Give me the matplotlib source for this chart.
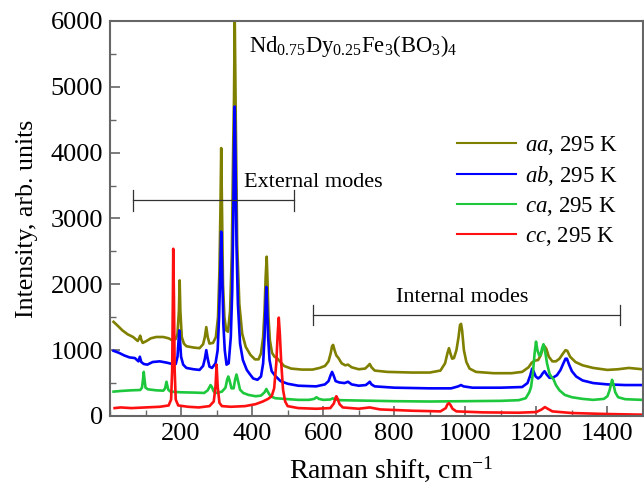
import matplotlib
matplotlib.use("Agg")
import matplotlib.pyplot as plt
from matplotlib.ticker import MultipleLocator

plt.rcParams['font.family'] = ['Liberation Serif', 'DejaVu Serif']
plt.rcParams['mathtext.fontset'] = 'custom'
plt.rcParams['mathtext.rm'] = 'Liberation Serif'
plt.rcParams['mathtext.it'] = 'Liberation Serif:italic'
plt.rcParams['mathtext.bf'] = 'Liberation Serif:bold'

# Raman spectra, Nd0.75Dy0.25Fe3(BO3)4 at 295 K, four scattering geometries
aa_shift = [10, 20, 35, 50, 65, 78, 82, 85, 88, 92, 103, 115, 130, 150, 165, 175, 185,
            190, 194, 196, 198, 202, 208, 215, 235, 252, 262, 267, 271, 275, 280, 290,
            298, 304, 308, 311, 313, 315, 318, 322, 327, 332, 338, 343, 347, 349, 351,
            354, 358, 364, 372, 382, 395, 408, 418, 425, 431, 435, 438, 441, 443, 446,
            450, 456, 463, 470, 478, 490, 510, 540, 570, 590, 605, 615, 621, 625, 628,
            632, 637, 643, 652, 662, 670, 680, 700, 718, 726, 731, 736, 745, 780, 850,
            900, 930, 943, 950, 954, 958, 963, 968, 975, 981, 985, 988, 991, 996, 1003,
            1012, 1030, 1080, 1130, 1160, 1178, 1187, 1195, 1205, 1212, 1218, 1223,
            1228, 1235, 1245, 1255, 1265, 1275, 1282, 1287, 1295, 1310, 1330, 1360,
            1400, 1430, 1460, 1498]
aa_int = [1430, 1380, 1300, 1240, 1200, 1140, 1180, 1220, 1160, 1110, 1140, 1180, 1200,
          1200, 1180, 1150, 1170, 1250, 1600, 2060, 1600, 1200, 1100, 1060, 1040, 1030,
          1090, 1200, 1350, 1200, 1100, 1110, 1200, 1500, 2200, 3200, 4070, 3200, 2000,
          1500, 1300, 1280, 1600, 2500, 4200, 4800, 6100, 4500, 2600, 1700, 1250, 1050,
          930, 860, 860, 950, 1200, 1600, 2100, 2420, 2100, 1500, 1150, 960, 900, 880,
          830, 760, 720, 705, 705, 730, 760, 830, 950, 1060, 1080, 1000, 920, 880, 800,
          770, 780, 740, 710, 720, 760, 790, 740, 690, 670, 660, 660, 690, 800, 960,
          1030, 950, 870, 880, 1000, 1200, 1380, 1400, 1300, 1000, 820, 720, 670, 650,
          650, 670, 740, 810, 840, 850, 920, 1020, 1060, 1020, 900, 830, 830, 870, 950,
          1000, 990, 900, 820, 770, 730, 700, 710, 730, 710]

ab_shift = [10, 25, 40, 55, 70, 80, 84, 88, 95, 105, 120, 140, 160, 175, 185, 190, 193,
            195, 197, 200, 206, 215, 235, 252, 262, 267, 271, 275, 280, 287, 297, 303,
            307, 310, 313, 316, 319, 323, 328, 334, 340, 344, 347, 349, 351, 353, 356,
            360, 366, 374, 385, 393, 403, 415, 425, 431, 435, 438, 440, 442, 445, 449,
            455, 465, 480, 500, 530, 580, 605, 615, 621, 625, 629, 635, 645, 660, 670,
            680, 700, 720, 727, 731, 736, 745, 800, 900, 960, 980, 988, 995, 1020, 1100,
            1160, 1175, 1183, 1188, 1192, 1198, 1205, 1212, 1218, 1223, 1229, 1237, 1246,
            1258, 1268, 1276, 1282, 1286, 1292, 1300, 1312, 1330, 1360, 1400, 1450, 1498]
ab_int = [990, 960, 920, 890, 880, 830, 900, 820, 790, 780, 820, 830, 810, 790, 790, 900,
          1150, 1300, 1150, 900, 780, 730, 710, 700, 760, 870, 1000, 870, 750, 730, 800,
          1000, 1500, 2100, 2800, 2100, 1400, 1000, 780, 800, 1200, 1900, 3000, 4000,
          4700, 4000, 2600, 1700, 1100, 850, 700, 640, 570, 550, 600, 800, 1200, 1700,
          1960, 1700, 1200, 850, 680, 610, 530, 490, 460, 450, 480, 530, 620, 670, 620,
          530, 510, 500, 520, 480, 460, 470, 500, 520, 480, 450, 430, 420, 420, 450,
          470, 450, 430, 430, 440, 500, 620, 720, 680, 600, 570, 600, 650, 680, 630,
          580, 580, 620, 700, 800, 870, 870, 780, 680, 600, 540, 500, 480, 470, 470]

ca_shift = [10, 30, 60, 85, 90, 93, 95, 97, 100, 107, 130, 150, 155, 157, 159, 161, 164,
            170, 200, 240, 265, 275, 280, 283, 287, 292, 300, 315, 325, 330, 333, 336,
            342, 348, 352, 356, 360, 366, 375, 390, 410, 425, 435, 440, 445, 452, 465,
            490, 530, 560, 575, 581, 588, 600, 620, 627, 635, 650, 700, 800, 900, 1000,
            1100, 1150, 1170, 1180, 1185, 1190, 1195, 1199, 1203, 1208, 1212, 1216, 1220,
            1224, 1230, 1237, 1243, 1248, 1255, 1265, 1280, 1300, 1330, 1360, 1390, 1400,
            1406, 1410, 1413, 1417, 1422, 1430, 1450, 1498]
ca_int = [370, 380, 390, 395, 430, 560, 670, 560, 430, 405, 390, 385, 420, 470, 520, 470,
          400, 370, 360, 355, 350, 390, 440, 470, 440, 370, 350, 370, 430, 560, 600, 550,
          420, 420, 550, 630, 540, 400, 350, 320, 300, 310, 360, 410, 360, 300, 270, 260,
          245, 245, 260, 285, 260, 245, 250, 268, 250, 240, 235, 225, 220, 225, 230, 240,
          270, 360, 440, 640, 950, 1130, 1000, 920, 930, 1030, 1090, 1000, 800, 640, 590,
          560, 470, 390, 320, 285, 260, 245, 260, 300, 390, 480, 550, 480, 360, 285, 255,
          245]

cc_shift = [13, 30, 60, 100, 140, 165, 172, 175, 177, 178, 180, 182, 185, 192, 220, 250,
            280, 292, 297, 300, 303, 308, 315, 340, 380, 410, 430, 445, 455, 462, 468, 472,
            475, 478, 482, 487, 493, 500, 530, 580, 620, 630, 635, 637, 640, 646, 655, 700,
            731, 760, 850, 930, 945, 950, 954, 958, 964, 975, 1050, 1150, 1200, 1215,
            1224, 1232, 1245, 1300, 1400, 1498]
cc_int = [120, 130, 120, 130, 140, 160, 250, 700, 1800, 2540, 1800, 700, 250, 160, 140,
          130, 150, 220, 450, 780, 450, 200, 150, 140, 150, 180, 220, 260, 300, 420, 800,
          1250, 1494, 1250, 800, 400, 220, 150, 120, 110, 120, 190, 280, 300, 270, 180,
          130, 110, 130, 100, 80, 70, 120, 180, 195, 170, 110, 70, 55, 50, 60, 100, 135,
          110, 70, 45, 30, 20]

series = [
    (aa_shift, aa_int, '#808000', r'$\mathit{aa}$, 295 K'),
    (ab_shift, ab_int, '#0000ff', r'$\mathit{ab}$, 295 K'),
    (ca_shift, ca_int, '#1ec83c', r'$\mathit{ca}$, 295 K'),
    (cc_shift, cc_int, '#ff1010', r'$\mathit{cc}$, 295 K'),
]

fig = plt.figure(figsize=(6.44, 4.87), dpi=100)
ax = fig.add_axes([0.1708, 0.1458, 0.8276, 0.8111])

for xs, ys, col, lab in series:
    ax.plot(xs, ys, color=col, lw=1.9, label=lab, solid_joinstyle='round')

ax.set_xlim(0, 1500)
ax.set_ylim(0, 6000)
ax.xaxis.set_major_locator(MultipleLocator(200))
ax.xaxis.set_minor_locator(MultipleLocator(100))
ax.yaxis.set_major_locator(MultipleLocator(1000))
ax.yaxis.set_minor_locator(MultipleLocator(500))
ax.set_xticks([200, 400, 600, 800, 1000, 1200, 1400])

spine_col = '#666666'
for s in ax.spines.values():
    s.set_color(spine_col)
    s.set_linewidth(1.5)
ax.tick_params(which='both', direction='in', colors=spine_col, labelcolor='black',
               labelsize=19, top=False, right=False)
ax.tick_params(which='major', length=7, width=1.2, pad=5)
ax.tick_params(which='minor', length=4, width=1.0)

ax.set_xlabel(r'Raman shift, cm$^{-1}$', fontsize=20, labelpad=6.5)
ax.xaxis.label.set_x(0.527)
ax.set_ylabel('Intensity, arb. units', fontsize=18.6, labelpad=9)

# compound label
ax.text(391, 5534, r'$\mathregular{Nd_{0.75}Dy_{0.25}Fe_{3}(BO_{3})_{4}}$',
        fontsize=16.3, ha='left', va='baseline')

# mode range brackets
brk = '#333333'
ax.plot([64, 517], [3276, 3276], color=brk, lw=0.9)
ax.plot([64, 64], [3120, 3433], color=brk, lw=0.9)
ax.plot([517, 517], [3120, 3433], color=brk, lw=0.9)
ax.text(573, 3479, 'External modes', fontsize=16, ha='center', va='baseline')

ax.plot([571, 1434], [1534, 1534], color=brk, lw=0.9)
ax.plot([571, 571], [1382, 1686], color=brk, lw=0.9)
ax.plot([1434, 1434], [1382, 1686], color=brk, lw=0.9)
ax.text(992, 1737, 'Internal modes', fontsize=16, ha='center', va='baseline')

leg = ax.legend(loc='upper left', bbox_to_anchor=(0.634, 0.737), frameon=False,
                fontsize=16.5, handlelength=2.55, handletextpad=0.4, labelspacing=0.30,
                borderaxespad=0)
for h in leg.get_lines():
    h.set_linewidth(1.5)

fig.savefig('out.png', dpi=100)
